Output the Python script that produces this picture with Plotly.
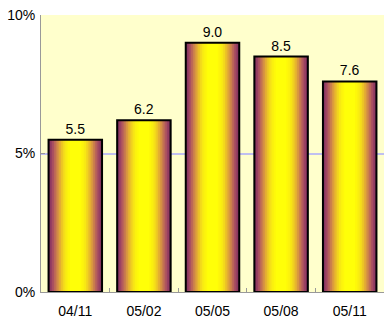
import plotly.graph_objects as go

categories = ["04/11", "05/02", "05/05", "05/08", "05/11"]
values = [5.5, 6.2, 9.0, 8.5, 7.6]
labels = ["5.5", "6.2", "9.0", "8.5", "7.6"]

# gradient from bar edge (dark) to centre (yellow)
grad_colors = ["#82305f", "#963f62", "#aa5060", "#bb6658", "#ca7e4c", "#d89640",
               "#e4ae32", "#ecc426", "#f3d81c", "#f8e814", "#fbf20e", "#fef80a", "#ffff08"]
bar_width = 0.78

fig = go.Figure()
n = len(grad_colors)
for i, c in enumerate(grad_colors):
    w = bar_width * (1 - i / (n + 2))
    fig.add_trace(go.Bar(x=categories, y=values, width=w, marker=dict(color=c, line=dict(width=0)),
                         hoverinfo="skip", showlegend=False))
fig.add_trace(go.Bar(x=categories, y=values, width=bar_width,
                     marker=dict(color="rgba(0,0,0,0)", line=dict(color="black", width=2)),
                     text=labels, textposition="outside", cliponaxis=False,
                     textfont=dict(size=14, color="black", family="Liberation Sans, Arial"),
                     showlegend=False))

fig.update_layout(
    width=391, height=324, barmode="overlay",
    margin=dict(l=41, r=7, t=15, b=32),
    paper_bgcolor="white", plot_bgcolor="#ffffcc",
    font=dict(family="Liberation Sans, Arial", size=14, color="black"),
    xaxis=dict(showgrid=False, showline=True, linecolor="#999999", linewidth=1,
               ticks="inside", ticklen=4, tickcolor="#999999", tickson="boundaries",
               ticklabelstandoff=6, automargin=False),
    yaxis=dict(range=[0, 10], tickvals=[0, 5, 10], ticktext=["0%", "5%", "10%"],
               showgrid=True, gridcolor="#c0c0f0", gridwidth=2, zeroline=False,
               showline=True, linecolor="#999999", linewidth=1, automargin=False,
               ticks="inside", ticklen=4, tickcolor="#999999", ticklabelstandoff=2),
)
fig.write_html("out.html")
